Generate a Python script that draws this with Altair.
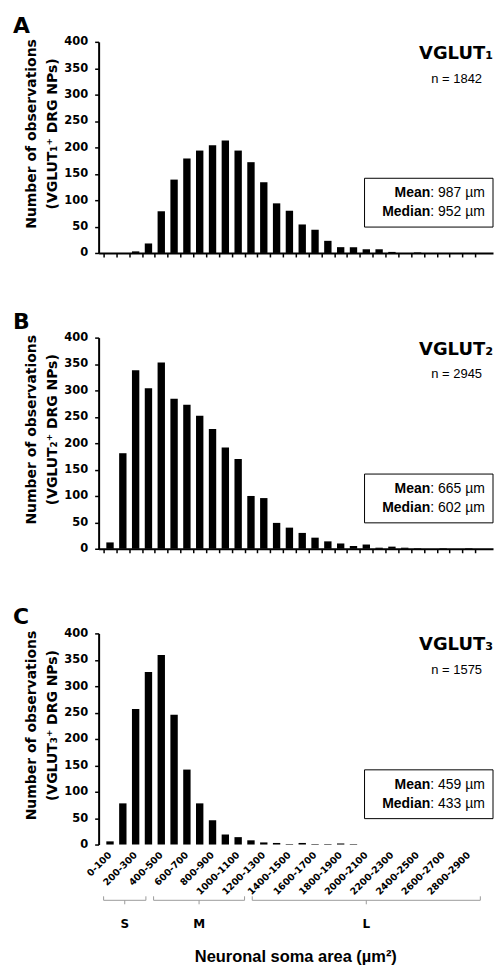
import altair as alt
import pandas as pd

# ---------------- data ----------------
bin_labels = ["0-100", "100-200", "200-300", "300-400", "400-500", "500-600",
              "600-700", "700-800", "800-900", "900-1000", "1000-1100", "1100-1200",
              "1200-1300", "1300-1400", "1400-1500", "1500-1600", "1600-1700", "1700-1800",
              "1800-1900", "1900-2000", "2000-2100", "2100-2200", "2200-2300", "2300-2400",
              "2400-2500", "2500-2600", "2600-2700", "2700-2800", "2800-2900", "2900-3000"]

vglut1_counts = [0, 0, 3, 18, 79, 139, 179, 194, 204, 213, 194, 172, 134, 94, 80,
                 54, 44, 23, 11, 11, 7, 7, 2, 0, 1, 0, 0, 0, 0, 0]
vglut2_counts = [12, 181, 338, 304, 353, 284, 273, 252, 227, 192, 170, 100, 96, 49, 40,
                 30, 21, 14, 10, 5, 8, 2, 4, 2, 1, 0, 1, 0, 1, 0]
vglut3_counts = [6, 78, 257, 327, 359, 246, 142, 78, 46, 19, 14, 8, 4, 3, 1,
                 3, 1, 1, 2, 1, 0, 0, 0, 0, 0, 0, 0, 0, 0, 0]

panel_letters = ["A", "B", "C"]
gene_names = ["VGLUT\u2081", "VGLUT\u2082", "VGLUT\u2083"]
y_title_line2 = ["(VGLUT\u2081\u207a DRG NPs)", "(VGLUT\u2082\u207a DRG NPs)", "(VGLUT\u2083\u207a DRG NPs)"]
n_values = [1842, 2945, 1575]
mean_values = [987, 665, 459]
median_values = [952, 602, 433]
stat_names = ["Mean", "Median"]
y_ticks = [0, 50, 100, 150, 200, 250, 300, 350, 400]

bracket_names = ["S", "M", "L"]
bracket_start = [0, 390, 1160]
bracket_end = [330, 1100, 2940]

x_title = "Neuronal soma area (\u00b5m\u00b2)"
y_title_line1 = "Number of observations"

# ---------------- layout ----------------
W = 396
H = 212
FB = "DejaVu Sans"
FA = "Liberation Sans"

bin_lo = [int(s.split("-")[0]) for s in bin_labels]
bin_hi = [int(s.split("-")[1]) for s in bin_labels]
bin_mid = [(a + b) / 2 for a, b in zip(bin_lo, bin_hi)]


def one(text):
    return pd.DataFrame({"t": [text]})


def panel(i, with_labels):
    df = pd.DataFrame({"bin": bin_labels, "mid": bin_mid,
                       "count": [vglut1_counts, vglut2_counts, vglut3_counts][i]})
    xs = alt.Scale(domain=[bin_lo[0], bin_hi[-1]], nice=False, zero=False)
    ys = alt.Scale(domain=[0, 400], nice=False)
    x_axis = alt.Axis(values=bin_lo, title=None, grid=False, tickSize=4, tickWidth=1.5,
                      tickColor="black", domainColor="black", domainWidth=2, labels=False)
    y_axis = alt.Axis(values=y_ticks, grid=False, tickSize=4, tickWidth=1.5,
                      tickColor="black", domainColor="black", domainWidth=2,
                      labelFont=FB, labelFontWeight="bold", labelFontSize=11.5,
                      labelColor="black", labelPadding=7,
                      title=[y_title_line1, y_title_line2[i]], titleFont=FB,
                      titleFontWeight="bold", titleFontSize=14, titleColor="black",
                      titleLineHeight=21, titleX=-60, titleY=92, titleAngle=270,
                      titleAlign="center", titleBaseline="bottom")
    bars = alt.Chart(df).mark_bar(width=7.4, color="black", orient="vertical").encode(
        x=alt.X("mid:Q", scale=xs, axis=x_axis),
        y=alt.Y("count:Q", scale=ys, axis=y_axis),
    )
    layers = [bars]
    layers.append(alt.Chart(one(panel_letters[i])).mark_text(
        align="left", baseline="alphabetic", font=FB, fontWeight="bold",
        fontSize=22, color="black").encode(text="t:N", x=alt.value(-86), y=alt.value(-9)))
    layers.append(alt.Chart(one(gene_names[i])).mark_text(
        align="right", baseline="alphabetic", font=FB, fontWeight="bold",
        fontSize=18, color="black").encode(text="t:N", x=alt.value(W), y=alt.value(17)))
    layers.append(alt.Chart(one("n = %d" % n_values[i])).mark_text(
        align="right", baseline="middle", font=FA, fontSize=13,
        color="black").encode(text="t:N", x=alt.value(W - 11), y=alt.value(37)))
    layers.append(alt.Chart(one("")).mark_rect(
        fill="white", stroke="black", strokeWidth=1).encode(
        x=alt.value(267), x2=alt.value(W), y=alt.value(137), y2=alt.value(186)))
    stat_vals = [mean_values[i], median_values[i]]
    for k, (nm, v) in enumerate(zip(stat_names, stat_vals)):
        yv = 152 + 19 * k
        layers.append(alt.Chart(one(nm)).mark_text(
            align="right", baseline="middle", font=FA, fontWeight="bold",
            fontSize=14, color="black").encode(text="t:N", x=alt.value(333), y=alt.value(yv)))
        layers.append(alt.Chart(one(": %d \u00b5m" % v)).mark_text(
            align="left", baseline="middle", font=FA, fontSize=14,
            color="black").encode(text="t:N", x=alt.value(333), y=alt.value(yv)))
    if with_labels:
        # category tick labels (every other bin), rotated like the original
        ldf = pd.DataFrame({"label": bin_labels[::2], "mid": bin_mid[::2]})
        layers.append(alt.Chart(ldf).mark_text(
            angle=315, align="right", baseline="middle", font=FB, fontWeight="bold",
            fontSize=9.5, color="black").encode(
            x=alt.X("mid:Q", scale=xs, axis=None), y=alt.value(H + 9), text="label:N"))
        bdf = pd.DataFrame({"name": bracket_names, "start": bracket_start,
                            "end": bracket_end})
        base = alt.Chart(bdf).transform_calculate(mid="(datum.start + datum.end) / 2")
        gray = "#9a9a9a"
        layers.append(base.mark_rule(color=gray, strokeWidth=1).encode(
            x=alt.X("start:Q", scale=xs, axis=None), x2="end:Q", y=alt.value(H + 56)))
        layers.append(base.mark_rule(color=gray, strokeWidth=1).encode(
            x=alt.X("start:Q", scale=xs, axis=None), y=alt.value(H + 52), y2=alt.value(H + 56)))
        layers.append(base.mark_rule(color=gray, strokeWidth=1).encode(
            x=alt.X("end:Q", scale=xs, axis=None), y=alt.value(H + 52), y2=alt.value(H + 56)))
        layers.append(base.mark_rule(color=gray, strokeWidth=1).encode(
            x=alt.X("mid:Q", scale=xs, axis=None), y=alt.value(H + 56), y2=alt.value(H + 60)))
        layers.append(base.mark_text(font=FB, fontWeight="bold", fontSize=12,
                                     color="black", baseline="middle").encode(
            x=alt.X("mid:Q", scale=xs, axis=None), y=alt.value(H + 80), text="name:N"))
        layers.append(alt.Chart(one(x_title)).mark_text(
            font=FA, fontWeight="bold", fontSize=16.5, color="black",
            baseline="middle").encode(text="t:N", x=alt.value(W / 2), y=alt.value(H + 113)))
    return alt.layer(*layers).properties(width=W, height=H)


chart = alt.vconcat(panel(0, False), panel(1, False), panel(2, True), spacing=52).properties(
    padding={"left": 5, "top": 5, "right": 0, "bottom": 0}
).configure_view(stroke=None)

chart.save("out.html", embed_options={"renderer": "svg", "actions": False})
